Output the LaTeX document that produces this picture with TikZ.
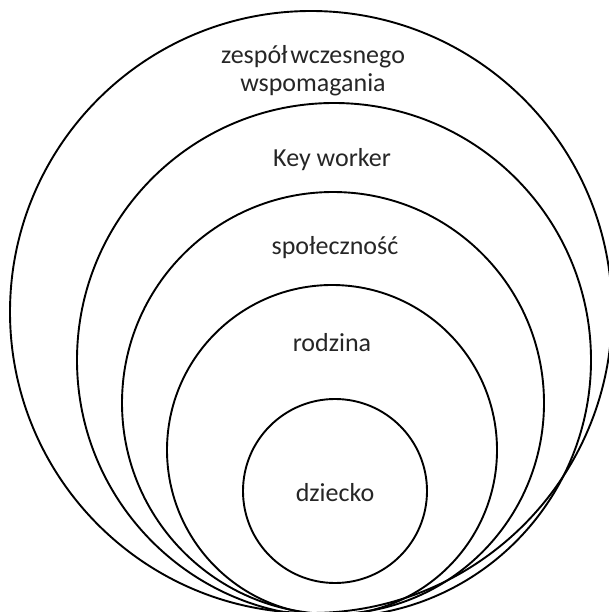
\documentclass[tikz,border=0pt]{standalone}
\usepackage{fontspec}
\setmainfont{Carlito}
\usetikzlibrary{positioning}

\tikzset{
  ring/.style={draw=black,line width=1.9pt},
  lbl/.style={font=\fontsize{26}{28}\selectfont,text=black!85,align=center,inner sep=0pt}
}

\begin{document}
\begin{tikzpicture}[x=1pt,y=-1pt]
  \fill[white] (0,0) rectangle (609,612);
  \clip (0,0) rectangle (609,612);
   \coordinate (Zespol) at (311,312);
   \coordinate (Key) at (334,360);
   \coordinate (Spol) at (333,403);
   \coordinate (Rodz) at (332,450);
   \coordinate (Dzie) at (335,491);
 % rings, outermost first
 \draw[ring] (Zespol) circle[radius=301];
 \draw[ring] (Key)    circle[radius=257];
 \draw[ring] (Spol)   circle[radius=211];
 \draw[ring] (Rodz)   circle[radius=165];
 \draw[ring] (Dzie)   circle[radius=92];
 % texts
  \node[lbl] (tZespol) at (313,71)  {zespół\hspace{-0.12em} wczesnego\\wspomagania};
  \node[lbl] (tKey)    at (332,160) {Key worker};
  \node[lbl] (tSpol)   at (335,248) {społeczność};
  \node[lbl] (tRodz)   at (332,343) {rodzina};
  \node[lbl] (tDzie)   at (335,493) {dziecko};
\end{tikzpicture}
\end{document}
